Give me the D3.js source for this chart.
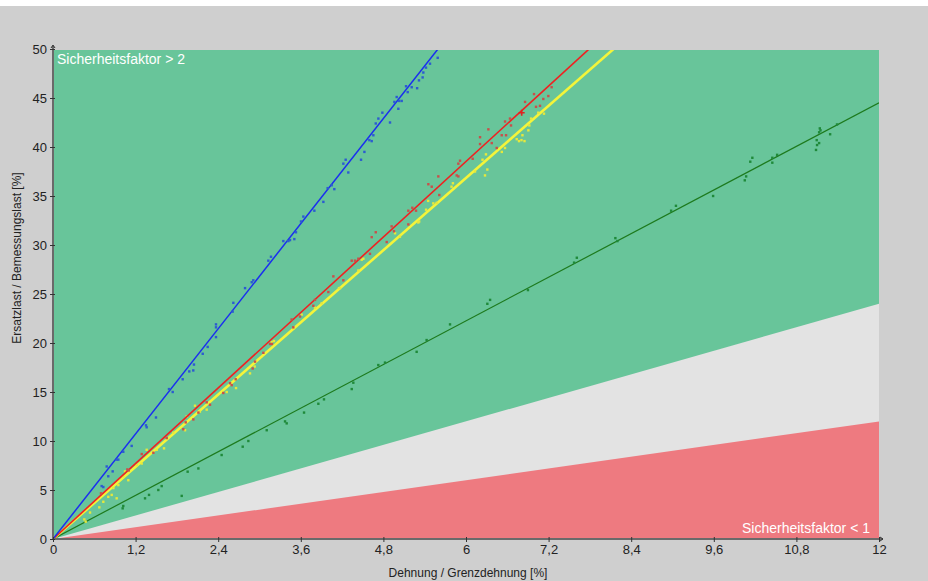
<!DOCTYPE html>
<html><head><meta charset="utf-8">
<script src="https://cdn.jsdelivr.net/npm/d3@7/dist/d3.min.js"></script>
<style>body{margin:0;background:#fff;} svg{display:block;font-family:"Liberation Sans",Arial,sans-serif;}</style>
</head><body>
<script>
const xTicks = [0, 1.2, 2.4, 3.6, 4.8, 6, 7.2, 8.4, 9.6, 10.8, 12];
const xTickLabels = ["0","1,2","2,4","3,6","4,8","6","7,2","8,4","9,6","10,8","12"];
const yTicks = [0,5,10,15,20,25,30,35,40,45,50];
const xTitle = "Dehnung / Grenzdehnung [%]";
const yTitle = "Ersatzlast / Bemessungslast [%]";
const zoneTopLabel = "Sicherheitsfaktor > 2";
const zoneBottomLabel = "Sicherheitsfaktor < 1";
// safety zones: boundaries y = factor * x
const zoneFactors = [2, 1];
// regression line slopes
const slopeBlue = 8.94, slopeRed = 6.42, slopeYellow = 6.14, slopeGreen = 3.71;

const blueX = [0.707,0.731,0.78,0.803,0.867,0.925,0.949,1.021,1.143,1.351,1.361,1.496,1.685,1.739,1.884,1.98,2.038,2.048,2.175,2.247,2.368,2.368,2.368,2.61,2.62,2.79,2.887,2.91,3.128,3.167,3.346,3.419,3.443,3.506,3.53,3.603,3.637,3.797,3.928,3.99,4.049,4.087,4.218,4.252,4.29,4.475,4.524,4.596,4.63,4.654,4.689,4.727,4.785,4.896,4.959,4.993,5.03,5.017,5.066,5.129,5.153,5.211,5.29,5.317,5.37,5.38,5.419,5.477,5.589];
const blueY = [5.4,5.3,7.4,6.4,6.9,8.1,8.1,8.9,9.5,11.6,11.4,12.4,15.3,15.0,16.3,17.1,17.2,17.8,18.9,19.6,20.6,21.6,21.9,23.2,24.1,25.6,26.2,26.4,28.4,28.8,30.4,30.4,30.5,30.6,31.3,32.4,32.9,33.5,34.4,35.8,36.1,35.7,38.3,38.7,37.4,38.7,39.5,40.7,40.6,41.2,42.4,42.9,43.5,42.5,44.6,45.1,44.7,43.9,44.7,46.2,45.6,46.1,46.0,46.8,47.1,47.6,48.1,48.5,49.1];

const redX = [0.697,1.08,1.1,1.289,1.458,1.652,1.893,1.928,2.039,2.112,2.233,2.281,2.474,2.572,2.596,2.654,2.901,2.935,3.056,3.153,3.18,3.467,3.491,3.589,3.782,3.806,4.0,4.073,4.218,4.34,4.388,4.436,4.605,4.63,4.689,4.848,4.92,4.954,5.162,5.162,5.22,5.274,5.453,5.502,5.598,5.612,5.865,5.889,5.889,5.913,6.097,6.204,6.204,6.325,6.374,6.446,6.519,6.567,6.582,6.639,6.654,6.858,6.988,7.017,7.075,7.123,7.196,7.244];
const redY = [4.66,7.1,7.0,8.67,8.8,10.3,11.2,11.9,12.2,12.9,13.95,13.7,14.9,15.9,15.7,16.3,17.4,18.1,19.0,19.9,19.9,22.4,21.6,22.7,23.8,24.4,25.2,26.8,26.4,28.4,28.4,28.6,29.1,30.8,31.3,30.3,31.9,31.4,32.1,33.5,33.8,33.5,36.2,35.95,37.0,35.1,37.1,37.0,38.3,38.6,38.8,41.0,40.3,41.8,40.4,39.9,41.2,42.6,41.2,42.9,42.2,44.6,45.4,44.1,44.2,44.9,45.2,46.1];
const redMarkX = [6.809], redMarkY = [43.5];

const yellowX = [0.455,0.475,0.538,0.673,0.731,0.803,0.853,0.925,0.877,0.949,1.021,1.046,1.094,1.216,1.289,1.361,1.507,1.613,1.748,1.918,1.942,2.063,2.134,2.233,2.524,2.659,2.862,2.93,3.177,3.21,3.49,3.613,3.806,3.904,4.155,4.17,4.436,4.485,4.509,4.969,5.04,5.307,5.32,5.42,5.45,5.525,5.574,5.79,5.81,6.131,6.24,6.276,6.29,6.31,6.52,6.567,6.737,6.77,6.806,6.82,6.85,6.906,6.92,6.945,7.05,7.133];
const yellowY = [2.0,1.77,2.7,3.23,3.8,4.3,4.5,4.15,5.2,5.5,6.4,6.9,6.0,7.55,7.7,9.1,9.1,9.25,10.85,11.1,12.5,13.6,13.0,13.2,15.0,15.4,16.9,17.6,20.1,20.2,21.5,22.9,23.6,24.05,25.6,25.6,27.4,28.5,28.6,31.2,30.85,32.3,32.4,33.6,34.5,34.25,34.3,35.95,36.3,37.5,38.7,37.1,39.25,37.7,39.5,39.9,40.8,40.6,40.7,41.2,40.6,41.7,42.2,42.9,43.5,43.4];

const greenX = [1.012,1.021,1.337,1.395,1.53,1.579,1.87,1.956,2.112,2.45,2.756,2.838,3.105,3.371,3.395,3.647,3.855,3.937,4.34,4.363,4.726,4.823,5.283,5.428,5.768,6.31,6.35,6.9,7.57,7.61,8.17,8.2,8.98,9.05,9.59,10.05,10.07,10.13,10.16,10.45,10.45,10.52,11.085,11.095,11.1,11.13,11.13,11.14,11.15,11.29,11.39];
const greenY = [3.13,3.37,4.15,4.5,5.0,5.4,4.4,6.87,7.2,8.57,9.42,10.0,11.1,12.0,11.8,12.9,13.8,14.25,15.3,15.95,17.75,18.0,19.1,20.3,21.9,24.0,24.4,25.4,28.2,28.7,30.7,30.4,33.5,34.0,35.0,36.6,37.0,38.5,38.9,38.4,38.9,39.2,39.7,40.7,40.2,40.4,41.5,41.9,41.7,41.3,42.3];

const W = 928, H = 581;
const margin = {left: 53, right: 49, top: 49, bottom: 42};
const svg = d3.select("body").append("svg").attr("width", W).attr("height", H);
svg.append("rect").attr("width", W).attr("height", H).attr("fill", "#cfcfcf");
svg.append("rect").attr("width", W).attr("height", 6).attr("fill", "#ffffff");

const x = d3.scaleLinear().domain([0, 12]).range([margin.left, W - margin.right]);
const y = d3.scaleLinear().domain([0, 50]).range([H - margin.bottom, margin.top]);

svg.append("clipPath").attr("id", "plot").append("rect")
  .attr("x", x(0)).attr("y", y(50) + 1).attr("width", x(12) - x(0)).attr("height", y(0) - y(50) - 1);

const g = svg.append("g").attr("clip-path", "url(#plot)");
g.append("rect").attr("x", x(0)).attr("y", y(50)).attr("width", x(12) - x(0)).attr("height", y(0) - y(50)).attr("fill", "#68c59a");
const zoneColors = ["#e3e3e3", "#ee7a80"];
zoneFactors.forEach((f, i) => {
  g.append("path").attr("d", d3.line()([[x(0), y(0)], [x(12), y(12 * f)], [x(12), y(0)]]))
    .attr("fill", zoneColors[i]);
});

function drawSeries(xs, ys, slope, lineColor, lw, dotColor) {
  const xmax = Math.min(12, 50 / slope);
  g.append("line").attr("x1", x(0)).attr("y1", y(0)).attr("x2", x(xmax)).attr("y2", y(slope * xmax))
    .attr("stroke", lineColor).attr("stroke-width", lw);
  g.selectAll(null).data(xs.map((v, i) => [v, ys[i]])).enter().append("rect")
    .attr("x", d => x(d[0]) - 1.2).attr("y", d => y(d[1]) - 1.2).attr("width", 2.4).attr("height", 2.4)
    .attr("fill", dotColor);
}
drawSeries(greenX, greenY, slopeGreen, "#1d7a1d", 1.2, "#1f8a3a");
drawSeries(yellowX, yellowY, slopeYellow, "#f4f43a", 2.6, "#e6e83c");
drawSeries(redX, redY, slopeRed, "#f02020", 1.6, "#c8504a");
drawSeries(blueX, blueY, slopeBlue, "#1a2ef0", 1.5, "#2c5cd0");

redMarkX.forEach((v, i) => {
  const px = x(v), py = y(redMarkY[i]);
  g.append("path").attr("d", `M${px-3},${py}H${px+3}M${px},${py-3}V${py+3}`).attr("stroke", "#e02020").attr("stroke-width", 1.6);
});

// zone labels
svg.append("text").attr("x", x(0) + 4).attr("y", y(50) + 15).attr("fill", "#ffffff").attr("font-size", 14).text(zoneTopLabel);
svg.append("text").attr("x", x(12) - 9).attr("y", y(0) - 6).attr("text-anchor", "end").attr("fill", "#ffffff").attr("font-size", 14).text(zoneBottomLabel);

// axes
const axisColor = "#6a6a6a";
svg.append("line").attr("x1", x(0)).attr("x2", x(0)).attr("y1", y(0) + 1).attr("y2", y(50) - 3).attr("stroke", axisColor).attr("stroke-width", 2);
svg.append("line").attr("x1", x(0) - 1).attr("x2", x(12) + 4).attr("y1", y(0)).attr("y2", y(0)).attr("stroke", axisColor).attr("stroke-width", 2);

const xAxis = svg.append("g").attr("transform", `translate(0,${y(0)})`)
  .call(d3.axisBottom(x).tickValues(xTicks).tickFormat((d, i) => xTickLabels[i]).tickSize(3).tickSizeOuter(0).tickPadding(3));
xAxis.select(".domain").remove();
xAxis.selectAll(".tick line").attr("stroke", "#333").attr("y1", -2);
xAxis.selectAll(".tick text").attr("font-size", 13).attr("fill", "#222").attr("font-family", "Liberation Sans, Arial, sans-serif");

const yAxis = svg.append("g").attr("transform", `translate(${x(0)},0)`)
  .call(d3.axisLeft(y).tickValues(yTicks).tickSize(3).tickSizeOuter(0).tickPadding(3));
yAxis.select(".domain").remove();
yAxis.selectAll(".tick line").attr("stroke", "#333").attr("x1", 2);
yAxis.selectAll(".tick text").attr("font-size", 13).attr("fill", "#222").attr("font-family", "Liberation Sans, Arial, sans-serif");

// small end arrows
svg.append("path").attr("d", `M${x(0)-2},${y(50)-1}L${x(0)},${y(50)-4}L${x(0)+2},${y(50)-1}`).attr("fill", "none").attr("stroke", "#333").attr("stroke-width", 1);
svg.append("path").attr("d", `M${x(12)+1},${y(0)-2}L${x(12)+4},${y(0)}L${x(12)+1},${y(0)+2}`).attr("fill", "none").attr("stroke", "#333").attr("stroke-width", 1);

svg.append("text").attr("x", (x(0) + x(12)) / 2 + 2).attr("y", H - 4).attr("text-anchor", "middle").attr("font-size", 12).attr("fill", "#222").text(xTitle);
svg.append("text").attr("transform", `translate(21,258) rotate(-90)`).attr("text-anchor", "middle").attr("font-size", 12).attr("fill", "#222").text(yTitle);
</script>
</body></html>
